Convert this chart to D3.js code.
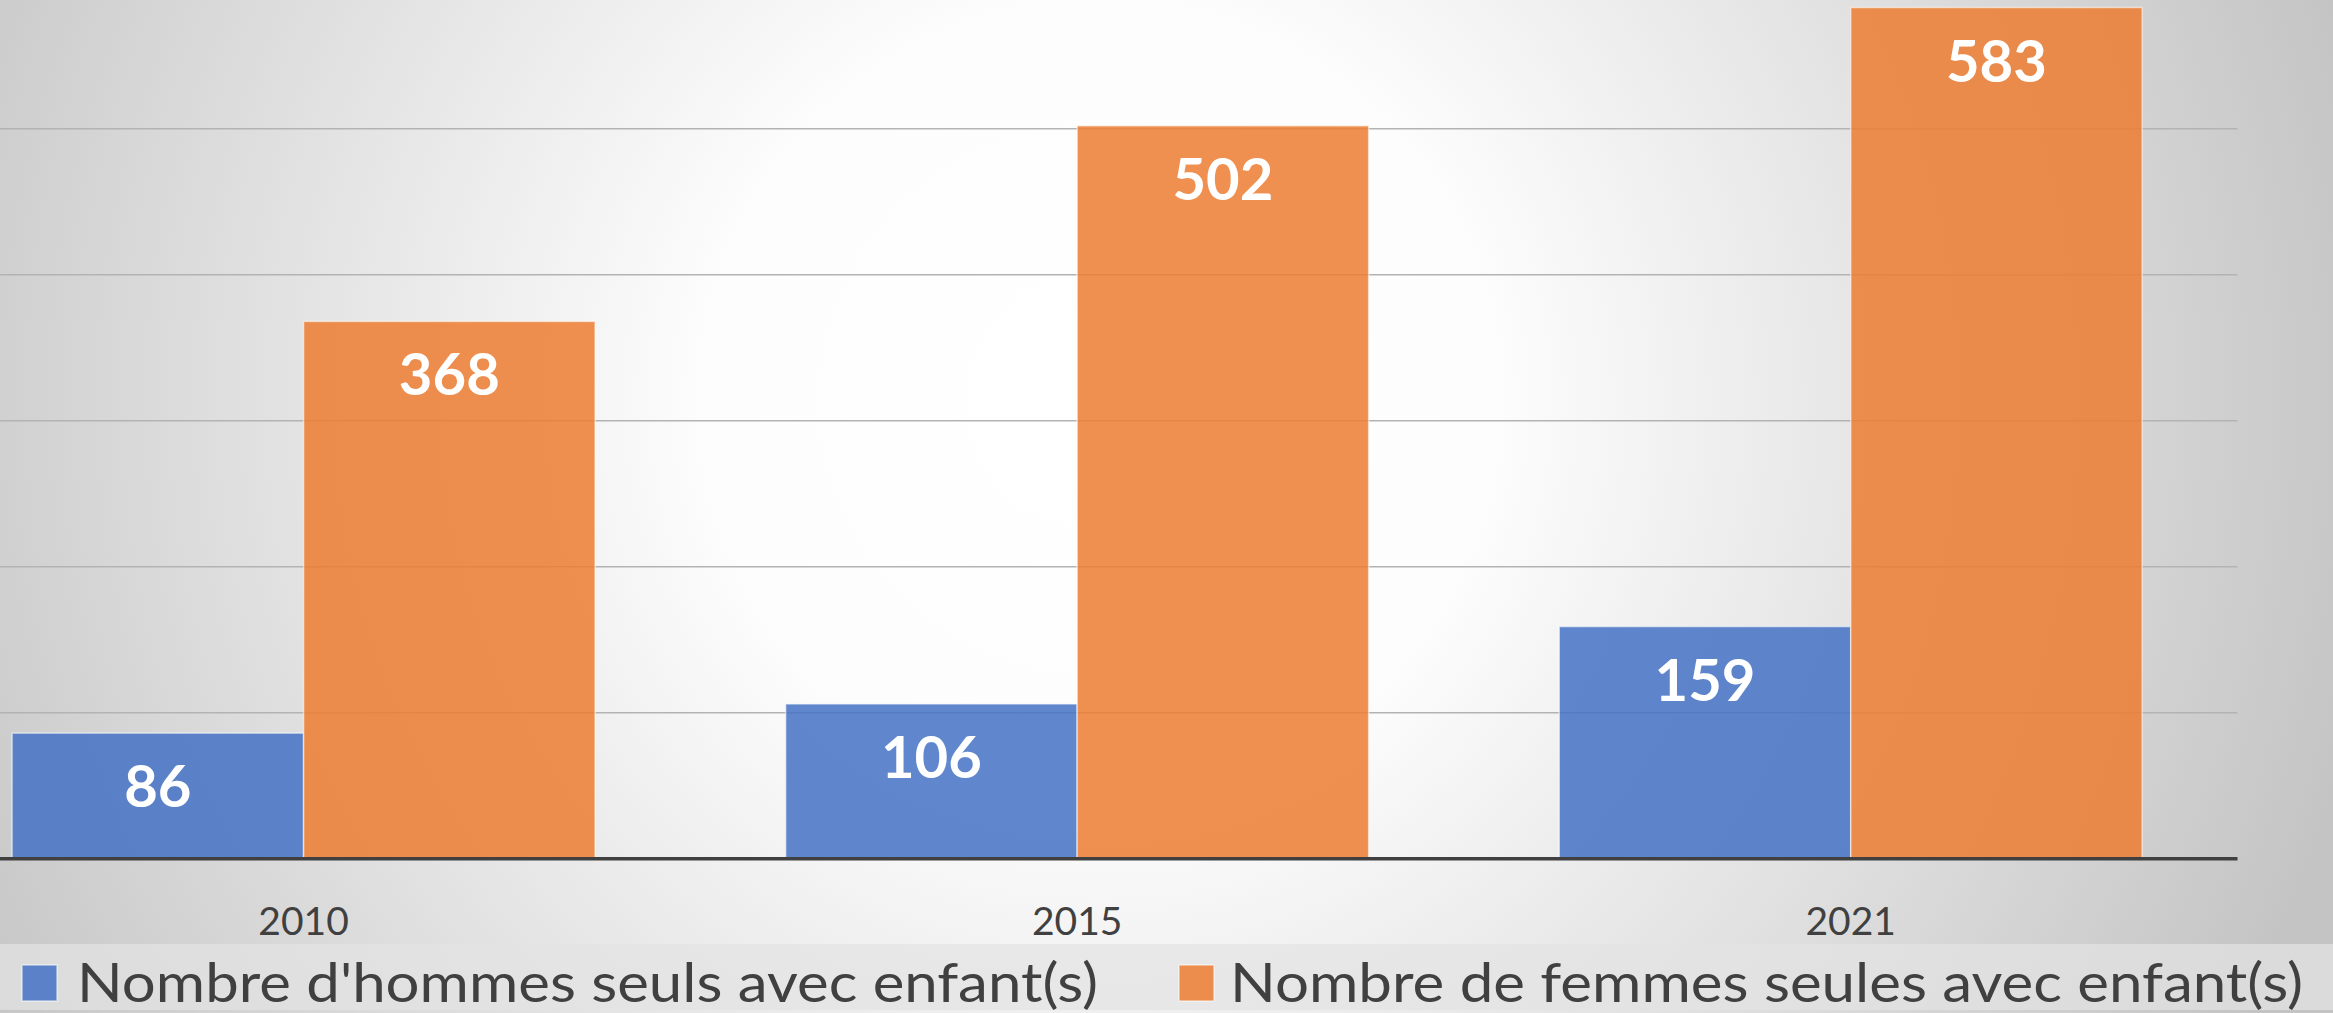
<!DOCTYPE html>
<html><head><meta charset="utf-8">
<script src="https://cdn.jsdelivr.net/npm/d3@7"></script>
<style>html,body{margin:0;padding:0;overflow:hidden;background:#fff}</style>
</head><body>
<script>
const categories = ["2010", "2015", "2021"];
const seriesNames = ["Nombre d'hommes seuls avec enfant(s)", "Nombre de femmes seules avec enfant(s)"];
const hommes = [86, 106, 159];
const femmes = [368, 502, 583];
const gridTicks = [100, 200, 300, 400, 500];

const W = 2333, H = 1013;
const colors = ["#4472C4", "#ED7D31"];
const svg = d3.select("body").append("svg").attr("width", W).attr("height", H);

const defs = svg.append("defs");
const rg = defs.append("radialGradient").attr("id", "bg").attr("gradientUnits", "userSpaceOnUse")
  .attr("cx", 1100).attr("cy", 400).attr("r", 1300);
rg.append("stop").attr("offset", 0).attr("stop-color", "#ffffff");
rg.append("stop").attr("offset", 0.3).attr("stop-color", "#fdfdfd");
rg.append("stop").attr("offset", 1).attr("stop-color", "#c4c4c4");
svg.append("rect").attr("width", W).attr("height", H).attr("fill", "url(#bg)");

const baseY = 858.7;
const y = d3.scaleLinear().domain([0, 600]).range([baseY, baseY - 876]);
const x0 = d3.scaleBand().domain(categories).range([-83.2, 2237.5]).paddingInner(0).paddingOuter(0);
const x1 = d3.scaleBand().domain([0, 1]).range([0, x0.bandwidth()]).paddingInner(0).paddingOuter(0.327);

// gridlines
svg.append("g").selectAll("line").data(gridTicks).join("line")
  .attr("x1", 0).attr("x2", 2237.5)
  .attr("y1", d => y(d)).attr("y2", d => y(d))
  .attr("stroke", "#b3b3b3").attr("stroke-width", 1.6);

const data = categories.map((c, i) => ({cat: c, vals: [hommes[i], femmes[i]]}));
const groups = svg.append("g").selectAll("g").data(data).join("g")
  .attr("transform", d => `translate(${x0(d.cat)},0)`);
groups.selectAll("rect").data(d => d.vals.map((v, s) => ({v, s}))).join("rect")
  .attr("x", d => x1(d.s)).attr("width", x1.bandwidth())
  .attr("y", d => y(d.v)).attr("height", d => baseY - y(d.v))
  .attr("fill", d => colors[d.s]).attr("fill-opacity", 0.85)
  .attr("stroke", "rgba(255,255,255,0.55)").attr("stroke-width", 1.5);
groups.selectAll("text").data(d => d.vals.map((v, s) => ({v, s}))).join("text")
  .attr("x", d => x1(d.s) + x1.bandwidth() / 2)
  .attr("y", d => y(d.v) + 74)
  .attr("text-anchor", "middle")
  .attr("font-family", "Lato, 'Open Sans', sans-serif").attr("font-weight", 700)
  .attr("font-size", 58).attr("fill", "#ffffff")
  .text(d => d.v);

// baseline axis
const xAxis = d3.axisBottom(x0).tickSize(0).tickPadding(0);
const ax = svg.append("g").attr("transform", `translate(0,${baseY})`).call(xAxis);
ax.select(".domain").attr("stroke", "#404040").attr("stroke-width", 3.4).attr("d", "M0,0H2237.5");
ax.selectAll(".tick text").attr("y", 76).attr("dy", 0)
  .attr("font-family", "Lato, 'Open Sans', sans-serif").attr("font-size", 39).attr("fill", "#404040");

// legend band
svg.append("rect").attr("x", 0).attr("y", 944).attr("width", W).attr("height", 66)
  .attr("fill", "#e3e3e3").attr("fill-opacity", 0.72);
const legendItems = [
  {name: seriesNames[0], sx: 22, tx: 77, tw: 1021},
  {name: seriesNames[1], sx: 1179, tx: 1230, tw: 1073}
];
const lg = svg.append("g").selectAll("g").data(legendItems).join("g");
lg.append("rect").attr("x", d => d.sx).attr("y", 965).attr("width", 35).attr("height", 36)
  .attr("fill", (d, i) => colors[i]).attr("fill-opacity", 0.85)
  .attr("stroke", "rgba(255,255,255,0.55)").attr("stroke-width", 1.5);
lg.append("text").attr("x", d => d.tx).attr("y", 1001.5)
  .attr("font-family", "Lato, 'Open Sans', sans-serif").attr("font-size", 55).attr("fill", "#404040")
  .attr("textLength", d => d.tw).attr("lengthAdjust", "spacingAndGlyphs")
  .text(d => d.name);
</script>
</body></html>
